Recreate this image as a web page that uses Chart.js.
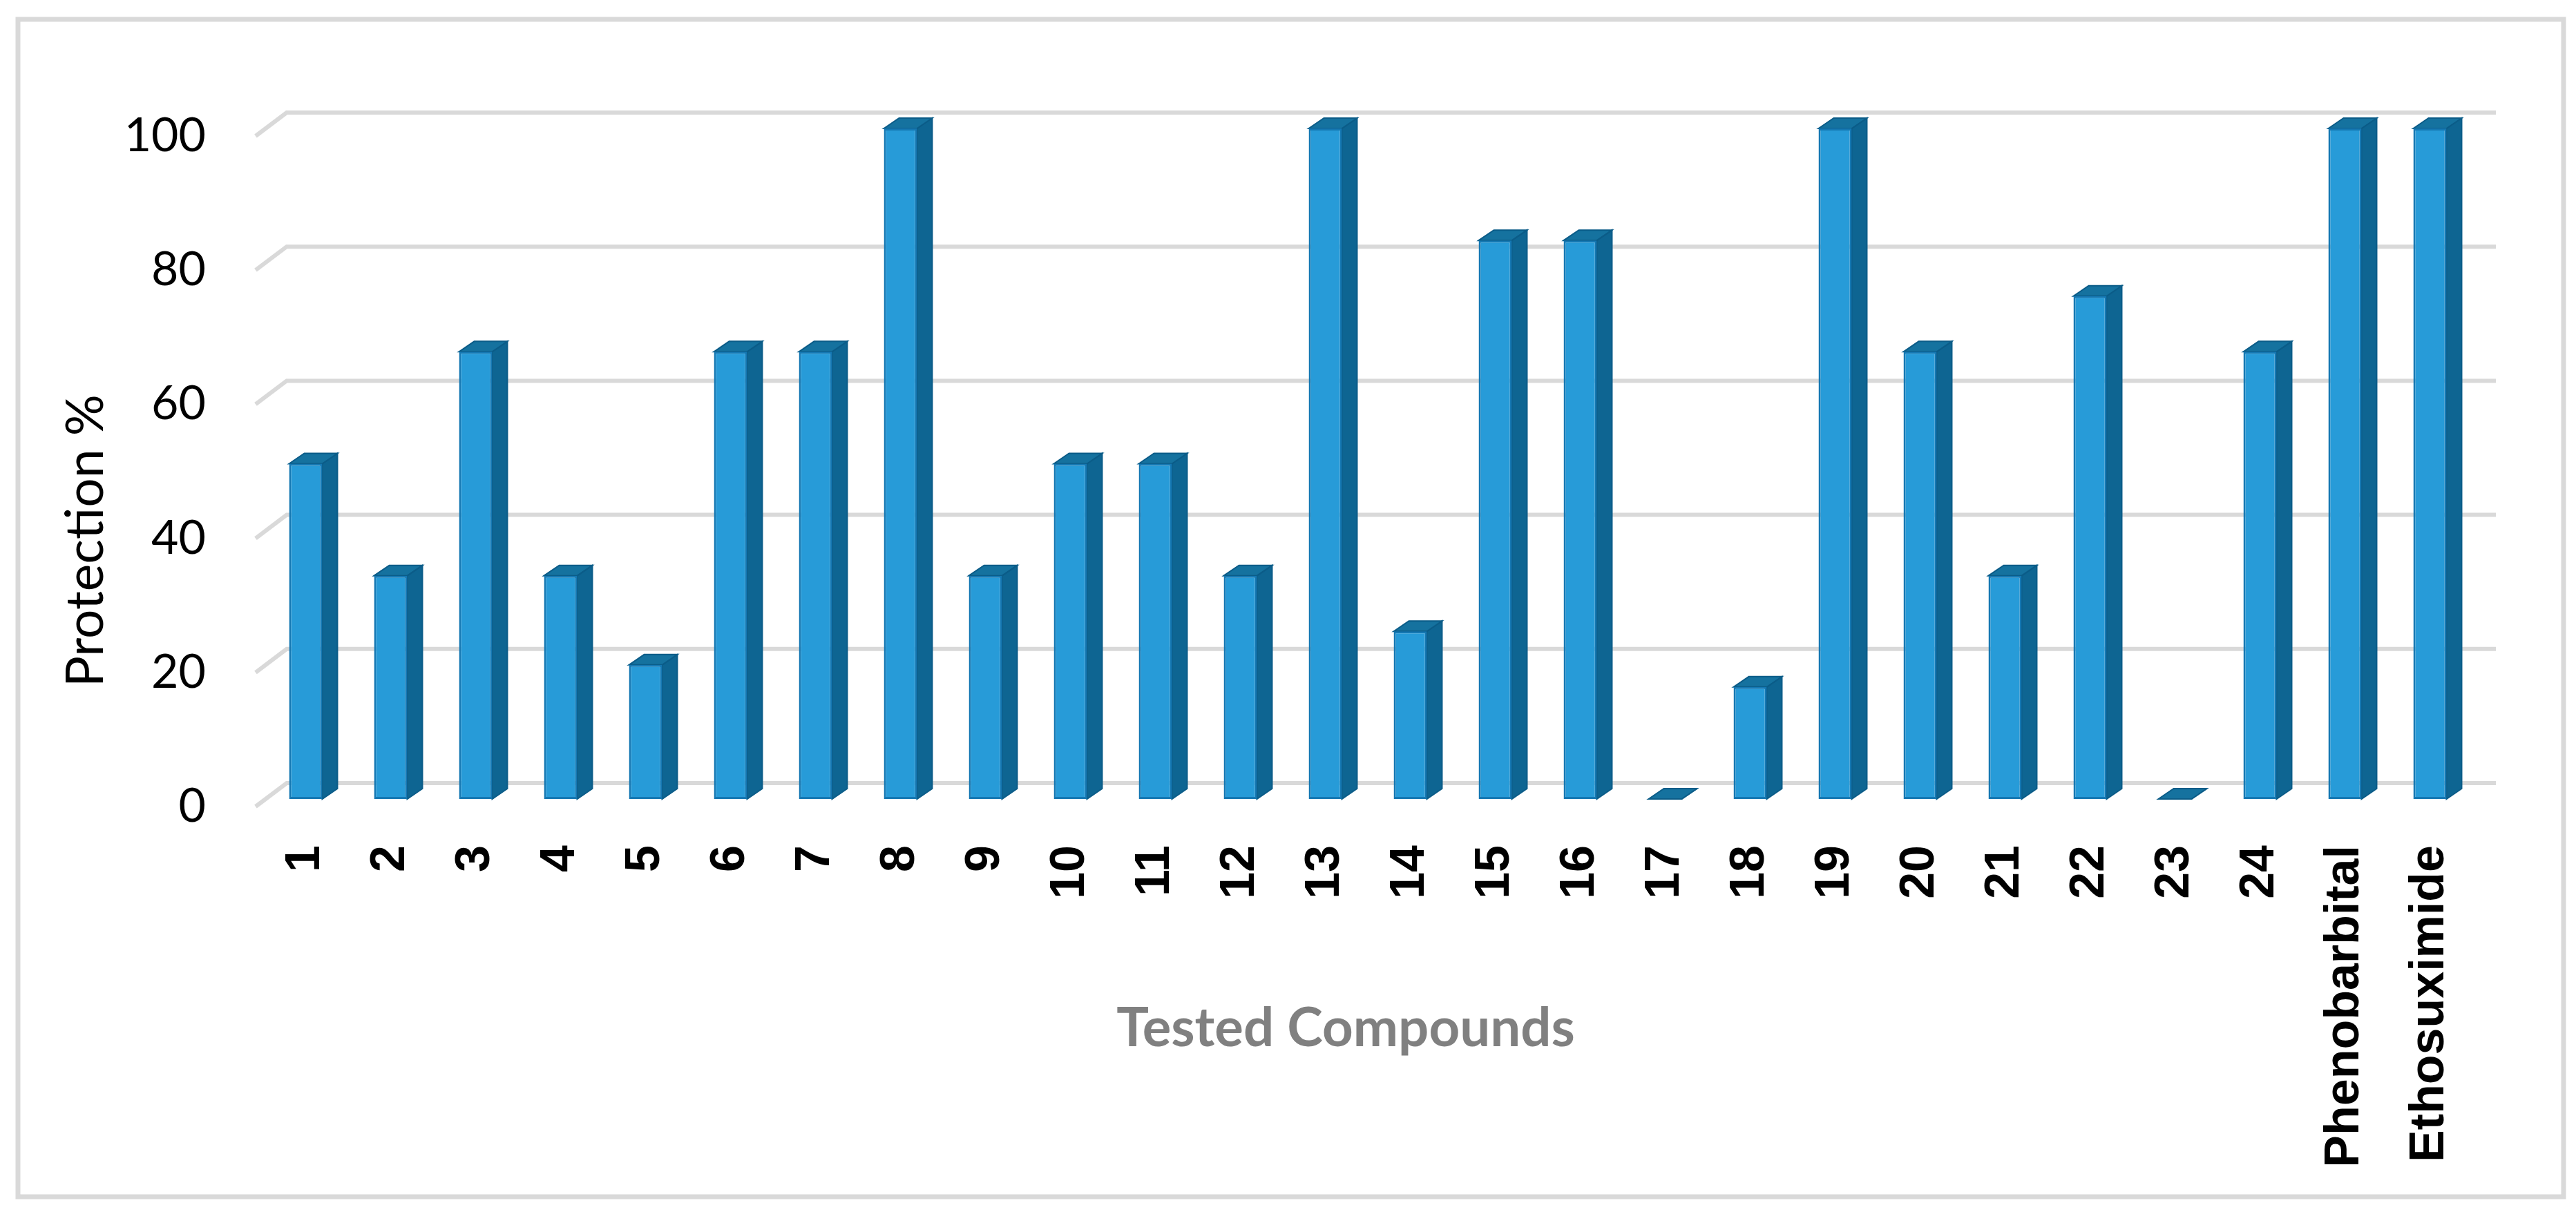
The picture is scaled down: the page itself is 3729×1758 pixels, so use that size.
<!DOCTYPE html>
<html lang="en">
<head>
  <meta charset="UTF-8">
  <title>Protection % of tested compounds</title>
  <script src="https://cdn.jsdelivr.net/npm/chart.js"></script>
  <style>
    html, body {
      margin: 0;
      padding: 0;
      background: #fff;
    }
    #wrap {
      width: 3729px;
      height: 1758px;
    }
  </style>
</head>
<body>
  <div id="wrap"><canvas id="chart" width="3729" height="1758"></canvas></div>

  <script>
    // data
    const compounds = ['1', '2', '3', '4', '5', '6', '7', '8', '9', '10', '11', '12', '13',
      '14', '15', '16', '17', '18', '19', '20', '21', '22', '23', '24', 'Phenobarbital', 'Ethosuximide'];
    const protection = [50, 33.3, 66.7, 33.3, 20, 66.7, 66.7, 100, 33.3, 50, 50, 33.3, 100,
      25, 83.3, 83.3, 0, 16.7, 100, 66.7, 33.3, 75, 0, 66.7, 100, 100];
    const yTicks = [0, 20, 40, 60, 80, 100];
    const yTitle = 'Protection %';
    const xTitle = 'Tested Compounds';

    // offsets used for the fake 3D look
    const gridBack = { dx: 34, dy: -34 };
    const gridFrontDx = -11;
    const barShiftY = -11;
    const barDepth = { dx: 22, dy: -15 };

    const fake3d = {
      id: 'fake3d',
      beforeDraw(chart) {
        const ctx = chart.ctx;
        ctx.save();
        ctx.fillStyle = '#fff';
        ctx.fillRect(0, 0, chart.width, chart.height);
        ctx.strokeStyle = '#d9d9d9';
        ctx.lineWidth = 7;
        ctx.strokeRect(26, 28, 3685, 1705);
        ctx.restore();
      },
      beforeDatasetsDraw(chart) {
        const { ctx, chartArea: a, scales: { y } } = chart;

        // back wall gridlines with the little diagonal at the left
        ctx.save();
        ctx.strokeStyle = '#d9d9d9';
        ctx.lineWidth = 6;
        y.ticks.forEach(t => {
          const py = y.getPixelForValue(t.value);
          ctx.beginPath();
          ctx.moveTo(a.left + gridFrontDx, py);
          ctx.lineTo(a.left + gridBack.dx, py + gridBack.dy);
          ctx.lineTo(a.right + gridBack.dx, py + gridBack.dy);
          ctx.stroke();
        });
        ctx.restore();

        // side and top faces, then leave the shift on for the front faces
        ctx.save();
        ctx.translate(0, barShiftY);
        ctx.lineWidth = 2;
        ctx.strokeStyle = '#0b5c88';
        chart.getDatasetMeta(0).data.forEach(bar => {
          const x0 = bar.x - bar.width / 2;
          const x1 = bar.x + bar.width / 2;
          const top = Math.min(bar.y, bar.base);
          const base = Math.max(bar.y, bar.base);

          ctx.fillStyle = '#0e6592';
          ctx.beginPath();
          ctx.moveTo(x1, top);
          ctx.lineTo(x1 + barDepth.dx, top + barDepth.dy);
          ctx.lineTo(x1 + barDepth.dx, base + barDepth.dy);
          ctx.lineTo(x1, base);
          ctx.closePath();
          ctx.fill();
          ctx.stroke();

          ctx.fillStyle = '#15729f';
          ctx.beginPath();
          ctx.moveTo(x0, top);
          ctx.lineTo(x0 + barDepth.dx, top + barDepth.dy);
          ctx.lineTo(x1 + barDepth.dx, top + barDepth.dy);
          ctx.lineTo(x1, top);
          ctx.closePath();
          ctx.fill();
          ctx.stroke();
        });
      },
      afterDatasetsDraw(chart) {
        chart.ctx.restore();
      },
      afterDraw(chart) {
        const ctx = chart.ctx;
        ctx.save();
        ctx.fillStyle = '#000';
        ctx.font = '75px Lato';
        ctx.textAlign = 'center';
        ctx.textBaseline = 'middle';
        ctx.translate(125, 783);
        ctx.rotate(-Math.PI / 2);
        ctx.fillText(yTitle, 0, 0);
        ctx.restore();

        ctx.save();
        ctx.fillStyle = '#808080';
        ctx.font = 'bold 78px Lato';
        ctx.textAlign = 'center';
        ctx.textBaseline = 'middle';
        ctx.fillText(xTitle, 1948, 1490);
        ctx.restore();
      }
    };

    const ctx = document.getElementById('chart').getContext('2d');
    new Chart(ctx, {
      type: 'bar',
      data: {
        labels: compounds,
        datasets: [{
          label: yTitle,
          data: protection,
          backgroundColor: '#279bd8',
          borderColor: '#1578b3',
          borderWidth: ctx2 => (ctx2.raw === 0 ? 0 : 3),
          borderSkipped: false,
          barPercentage: 0.39,
          categoryPercentage: 1
        }]
      },
      options: {
        responsive: false,
        devicePixelRatio: 1,
        animation: false,
        layout: {
          padding: { top: 197, right: 150, bottom: 0, left: 0 }
        },
        plugins: {
          legend: { display: false },
          tooltip: { enabled: false }
        },
        scales: {
          x: {
            grid: { display: false },
            border: { display: false },
            ticks: {
              color: '#000',
              font: { family: 'Liberation Sans', weight: 'bold', size: 70 },
              maxRotation: 90,
              minRotation: 90,
              autoSkip: false,
              padding: 48
            },
            afterFit(scale) { scale.height = 590; }
          },
          y: {
            min: 0,
            max: 100,
            grid: { display: false, drawTicks: false },
            border: { display: false },
            afterBuildTicks(scale) {
              scale.ticks = yTicks.map(v => ({ value: v }));
            },
            ticks: {
              color: '#000',
              font: { family: 'Lato', size: 68 },
              padding: 83
            },
            afterFit(scale) { scale.width = 381; }
          }
        }
      },
      plugins: [fake3d]
    });
  </script>
</body>
</html>
